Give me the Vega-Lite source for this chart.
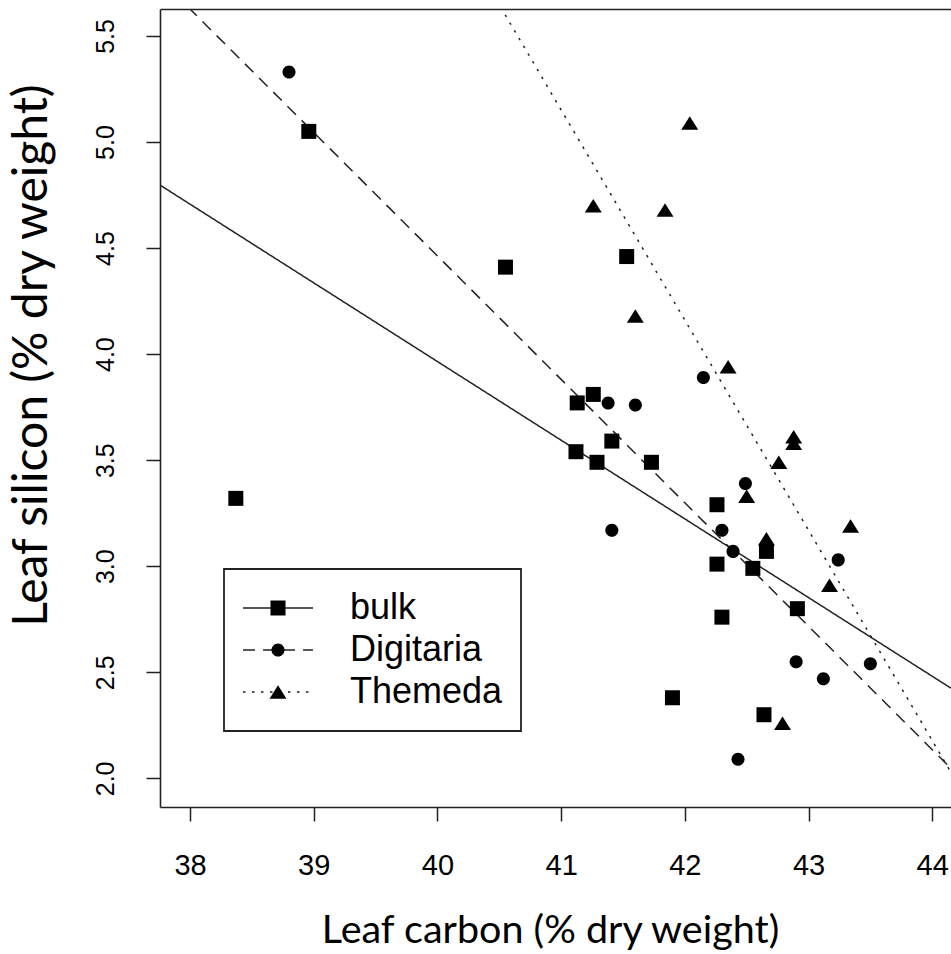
{
  "$schema": "https://vega.github.io/schema/vega-lite/v6.json",
  "autosize": {"type": "none"},
  "width": 791,
  "height": 798,
  "padding": {"left": 160, "top": 9, "right": 0, "bottom": 147},
  "background": "white",
  "config": {
    "view": {"stroke": null},
    "axis": {"grid": false, "domainColor": "#222", "domainWidth": 1.6, "tickColor": "#222", "tickWidth": 1.5, "labelColor": "black", "titleColor": "black", "titleFontWeight": "normal"},
    "legend": {"strokeWidth": 1.8}
  },
  "datasets": {
    "pts": [
      {"group": "bulk", "carbon": 38.37, "silicon": 3.32},
      {"group": "bulk", "carbon": 38.96, "silicon": 5.05},
      {"group": "bulk", "carbon": 40.55, "silicon": 4.41},
      {"group": "bulk", "carbon": 41.53, "silicon": 4.46},
      {"group": "bulk", "carbon": 41.13, "silicon": 3.77},
      {"group": "bulk", "carbon": 41.26, "silicon": 3.81},
      {"group": "bulk", "carbon": 41.41, "silicon": 3.59},
      {"group": "bulk", "carbon": 41.12, "silicon": 3.54},
      {"group": "bulk", "carbon": 41.29, "silicon": 3.49},
      {"group": "bulk", "carbon": 41.73, "silicon": 3.49},
      {"group": "bulk", "carbon": 42.26, "silicon": 3.29},
      {"group": "bulk", "carbon": 42.66, "silicon": 3.07},
      {"group": "bulk", "carbon": 42.26, "silicon": 3.01},
      {"group": "bulk", "carbon": 42.55, "silicon": 2.99},
      {"group": "bulk", "carbon": 42.30, "silicon": 2.76},
      {"group": "bulk", "carbon": 42.91, "silicon": 2.80},
      {"group": "bulk", "carbon": 41.90, "silicon": 2.38},
      {"group": "bulk", "carbon": 42.64, "silicon": 2.30},
      {"group": "Digitaria", "carbon": 38.80, "silicon": 5.33},
      {"group": "Digitaria", "carbon": 42.15, "silicon": 3.89},
      {"group": "Digitaria", "carbon": 41.38, "silicon": 3.77},
      {"group": "Digitaria", "carbon": 41.60, "silicon": 3.76},
      {"group": "Digitaria", "carbon": 41.41, "silicon": 3.17},
      {"group": "Digitaria", "carbon": 42.49, "silicon": 3.39},
      {"group": "Digitaria", "carbon": 42.30, "silicon": 3.17},
      {"group": "Digitaria", "carbon": 42.39, "silicon": 3.07},
      {"group": "Digitaria", "carbon": 43.24, "silicon": 3.03},
      {"group": "Digitaria", "carbon": 42.90, "silicon": 2.55},
      {"group": "Digitaria", "carbon": 43.50, "silicon": 2.54},
      {"group": "Digitaria", "carbon": 43.12, "silicon": 2.47},
      {"group": "Digitaria", "carbon": 42.43, "silicon": 2.09},
      {"group": "Themeda", "carbon": 42.04, "silicon": 5.09},
      {"group": "Themeda", "carbon": 41.26, "silicon": 4.70},
      {"group": "Themeda", "carbon": 41.84, "silicon": 4.68},
      {"group": "Themeda", "carbon": 41.60, "silicon": 4.18},
      {"group": "Themeda", "carbon": 42.35, "silicon": 3.94},
      {"group": "Themeda", "carbon": 42.88, "silicon": 3.61},
      {"group": "Themeda", "carbon": 42.88, "silicon": 3.58},
      {"group": "Themeda", "carbon": 42.76, "silicon": 3.49},
      {"group": "Themeda", "carbon": 42.50, "silicon": 3.33},
      {"group": "Themeda", "carbon": 42.66, "silicon": 3.13},
      {"group": "Themeda", "carbon": 43.34, "silicon": 3.19},
      {"group": "Themeda", "carbon": 43.17, "silicon": 2.91},
      {"group": "Themeda", "carbon": 42.79, "silicon": 2.26}
    ],
    "fits": [
      {"series": "bulk", "carbon": 37.757, "silicon": 4.797},
      {"series": "bulk", "carbon": 44.152, "silicon": 2.425},
      {"series": "Digitaria", "carbon": 37.757, "silicon": 5.768},
      {"series": "Digitaria", "carbon": 44.152, "silicon": 2.047},
      {"series": "Themeda", "carbon": 40.40, "silicon": 5.746},
      {"series": "Themeda", "carbon": 44.152, "silicon": 2.028}
    ]
  },
  "encoding": {
    "y": {
      "field": "silicon", "type": "quantitative",
      "scale": {"domain": [1.865, 5.627], "nice": false, "zero": false},
      "axis": {
        "title": "Leaf silicon (% dry weight)",
        "values": [2.0, 2.5, 3.0, 3.5, 4.0, 4.5, 5.0, 5.5],
        "format": ".1f",
        "tickSize": 14,
        "labelFont": "Liberation Sans", "labelFontSize": 25,
        "labelAngle": 270, "labelAlign": "center", "labelBaseline": "alphabetic",
        "labelPadding": 33,
        "titleFont": "Lato", "titleFontSize": 48,
        "titleAngle": 270, "titleAlign": "center", "titleBaseline": "alphabetic",
        "titleX": -114, "titleY": 346
      }
    }
  },
  "layer": [
    {
      "data": {"name": "fits"},
      "mark": {"type": "line", "color": "#222", "strokeWidth": 1.5, "clip": true},
      "encoding": {
        "x": {
          "field": "carbon", "type": "quantitative",
          "scale": {"domain": [37.757, 44.152], "nice": false, "zero": false},
          "axis": {"orient": "top", "labels": false, "ticks": false, "title": null, "domain": true}
        },
        "strokeDash": {
          "field": "series", "type": "nominal",
          "sort": ["bulk", "Digitaria", "Themeda"],
          "scale": {"range": [[1, 0], [12, 8], [2.5, 6.5]]},
          "legend": {
            "title": null, "orient": "none", "legendX": 64, "legendY": 560,
            "padding": 18, "clipHeight": 42, "rowPadding": 0,
            "labelFont": "Liberation Sans", "labelFontSize": 36, "labelColor": "black", "labelOffset": 36,
            "symbolType": "stroke", "symbolSize": 4900, "symbolStrokeWidth": 1.5, "symbolStrokeColor": "#222",
            "symbolOffset": 0, "strokeColor": "#222"
          }
        }
      }
    },
    {
      "data": {"name": "pts"},
      "mark": {"type": "point", "filled": true, "color": "black", "opacity": 1, "size": 225, "strokeWidth": 0},
      "encoding": {
        "x": {
          "field": "carbon", "type": "quantitative",
          "scale": {"domain": [37.757, 44.152], "nice": false, "zero": false},
          "axis": {
            "orient": "bottom",
            "title": "Leaf carbon (% dry weight)",
            "values": [38, 39, 40, 41, 42, 43, 44],
            "tickSize": 14,
            "labelFont": "Liberation Sans", "labelFontSize": 29, "labelPadding": 30,
            "titleFont": "Lato", "titleFontSize": 39.5,
            "titleBaseline": "alphabetic", "titleAlign": "center", "titleX": 390, "titleY": 135
          }
        },
        "shape": {
          "field": "group", "type": "nominal",
          "scale": {
            "domain": ["bulk", "Digitaria", "Themeda"],
            "range": ["M-1,-1H1V1H-1Z", "M0.87,0A0.87,0.87,0,1,1,-0.87,0A0.87,0.87,0,1,1,0.87,0Z", "M0,-0.9L1.13,0.9L-1.13,0.9Z"]
          },
          "legend": {
            "title": null, "orient": "none", "legendX": 64, "legendY": 560,
            "padding": 18, "clipHeight": 42, "rowPadding": 0,
            "labelFont": "Liberation Sans", "labelFontSize": 36, "labelOpacity": 0, "labelOffset": 36,
            "symbolSize": 225, "symbolFillColor": "black", "symbolStrokeWidth": 0, "symbolOffset": 18,
            "strokeColor": null
          }
        }
      }
    }
  ],
  "resolve": {"axis": {"x": "independent"}}
}
